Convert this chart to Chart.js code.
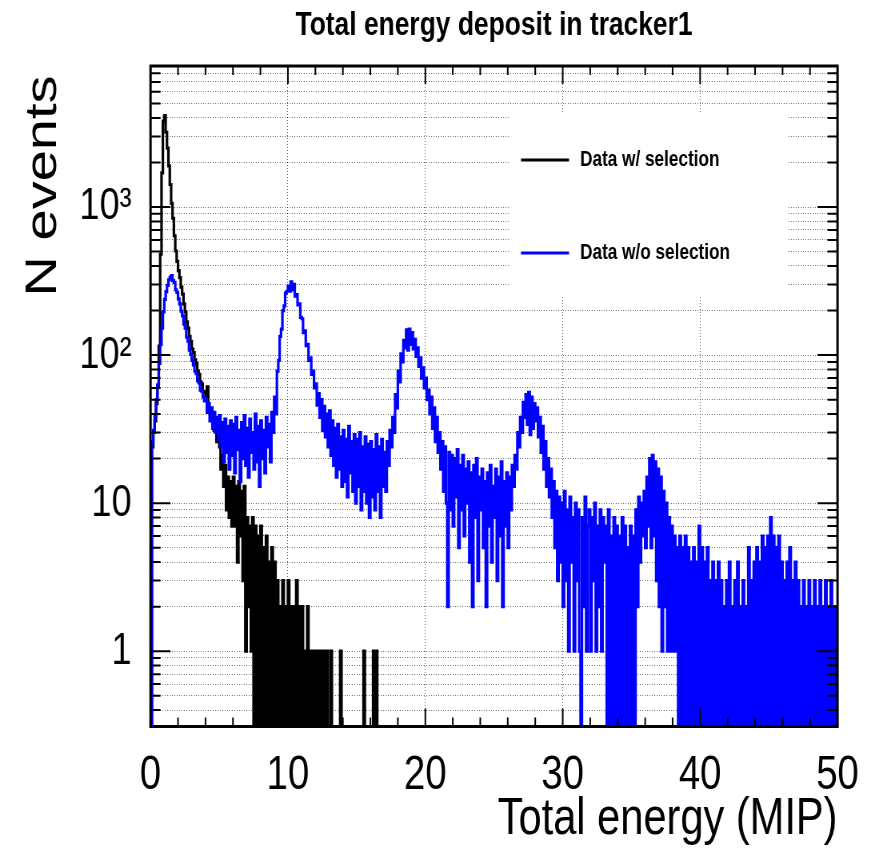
<!DOCTYPE html>
<html>
<head>
<meta charset="utf-8">
<script src="https://cdn.jsdelivr.net/npm/chart.js@4.4.1/dist/chart.umd.min.js"></script>
<style>
  html, body { margin: 0; padding: 0; background: #ffffff; }
  /* drawing buffer is wider than the displayed box: the plot is shown condensed horizontally */
  canvas { display: block; }
</style>
</head>
<body>
<canvas id="energy" width="1094" height="854" style="width:875px;height:854px"></canvas>
<script>
// Histogram binning (MIP per bin) and axis ranges
const BIN_WIDTH = 0.1;
const X_RANGE = [0, 50];
const Y_RANGE = [0.31, 8970];

const SERIES_LABELS = ['Data w/ selection', 'Data w/o selection'];
const X_TICKS = [0, 10, 20, 30, 40, 50];
const Y_TICKS = [
  0.4, 0.5, 0.6, 0.7, 0.8, 0.9,
  1, 2, 3, 4, 5, 6, 7, 8, 9,
  10, 20, 30, 40, 50, 60, 70, 80, 90,
  100, 200, 300, 400, 500, 600, 700, 800, 900,
  1000, 2000, 3000, 4000, 5000, 6000, 7000, 8000
];
const Y_TICK_LABELS = { 1: '1', 10: '10', 100: '10\u00B2', 1000: '10\u00B3' };

// Counts per bin, events passing the selection (0 - 17 MIP)
const withSelection = [
  0, 24, 30, 36, 47, 62, 115, 480, 1700, 3800,
  4150, 3200, 2500, 1900, 1420, 1060, 840, 640, 505, 430,
  372, 334, 288, 258, 222, 196, 168, 152, 134, 124,
  110, 104, 93, 88, 78, 74, 66, 64, 57, 56,
  50, 61, 44, 42, 37, 39, 31, 33, 26, 28,
  24, 17, 21, 13, 18, 9, 15, 8, 14, 7,
  15, 7, 13, 4, 14, 6, 12, 3, 13, 1,
  8, 2, 7, 1, 8, 0, 7, 0, 6, 0,
  7, 0, 5, 0, 6, 0, 4, 0, 5, 0,
  4, 0, 3, 0, 2, 0, 3, 0, 2, 0,
  3, 0, 2, 0, 2, 0, 3, 0, 2, 0,
  2, 0, 1, 0, 2, 0, 1, 0, 1, 0,
  1, 0, 1, 0, 1, 0, 1, 0, 1, 0,
  0, 1, 0, 0, 0, 0, 0, 0, 1, 0,
  0, 0, 0, 0, 0, 0, 0, 0, 0, 0,
  0, 0, 0, 0, 0, 1, 0, 0, 0, 0,
  0, 0, 1, 0, 1, 0, 0, 0, 0, 0
];

// Counts per bin, all events (0 - 50 MIP)
const withoutSelection = [
  0, 26, 31, 39, 50, 63, 88, 118, 152, 196,
  238, 268, 296, 322, 335, 345, 318, 310, 276, 265,
  240, 222, 198, 184, 162, 152, 132, 124, 108, 101,
  92, 86, 78, 75, 67, 65, 58, 57, 52, 49,
  51, 41, 47, 36, 44, 32, 41, 30, 38, 27,
  39, 24, 35, 19, 37, 22, 33, 17, 36, 21,
  34, 16, 38, 23, 31, 14, 35, 20, 39, 18,
  32, 15, 37, 22, 30, 17, 40, 19, 33, 13,
  36, 20, 31, 16, 38, 24, 34, 19, 41, 30,
  52, 40, 78, 92, 134, 150, 200, 215, 262, 270,
  292, 270, 312, 276, 300, 250, 256, 218, 222, 180,
  176, 142, 146, 116, 118, 92, 96, 74, 78, 60,
  64, 46, 55, 38, 50, 31, 45, 28, 40, 24,
  42, 21, 36, 18, 32, 15, 34, 17, 28, 13,
  31, 14, 27, 11, 33, 16, 26, 12, 29, 10,
  27, 13, 30, 9, 24, 12, 28, 10, 25, 8,
  26, 11, 23, 9, 29, 12, 24, 8, 27, 13,
  22, 12, 26, 18, 31, 24, 38, 30, 54, 44,
  78, 66, 102, 90, 126, 112, 148, 108, 150, 118,
  142, 110, 128, 98, 112, 84, 96, 70, 82, 60,
  70, 50, 58, 40, 52, 32, 44, 26, 38, 22,
  30, 17, 26, 12, 24, 10, 2, 22, 9, 21,
  7, 20, 11, 23, 5, 18, 9, 21, 6, 17,
  10, 19, 4, 16, 2, 18, 8, 20, 3, 15,
  9, 17, 5, 14, 2, 16, 7, 18, 4, 13,
  8, 17, 3, 15, 6, 19, 2, 14, 7, 16,
  5, 15, 9, 18, 13, 21, 17, 30, 24, 38,
  30, 48, 38, 54, 34, 56, 29, 52, 32, 47,
  36, 44, 28, 38, 22, 33, 17, 26, 13, 20,
  11, 17, 8, 14, 5, 12, 3, 11, 4, 10,
  2, 12, 3, 9, 1, 11, 4, 8, 1, 10,
  3, 9, 1, 0, 8, 2, 11, 1, 7, 9,
  1, 8, 3, 10, 1, 7, 2, 9, 1, 8,
  4, 7, 0, 9, 0, 6, 0, 8, 0, 7,
  0, 6, 0, 8, 0, 7, 0, 5, 0, 7,
  0, 6, 0, 9, 2, 11, 4, 10, 6, 12,
  5, 15, 7, 20, 5, 21, 6, 19, 3, 17,
  2, 15, 1, 12, 2, 10, 1, 8, 1, 7,
  1, 6, 1, 5, 0, 6, 0, 5, 0, 6,
  0, 5, 0, 4, 0, 5, 0, 4, 0, 7,
  0, 5, 0, 4, 0, 5, 0, 3, 0, 4,
  0, 3, 0, 4, 0, 3, 0, 2, 0, 3,
  0, 4, 0, 2, 0, 3, 0, 4, 0, 2,
  0, 3, 0, 2, 0, 5, 0, 3, 0, 4,
  0, 5, 0, 4, 0, 6, 0, 5, 0, 6,
  0, 8, 0, 6, 0, 5, 0, 6, 0, 4,
  0, 3, 0, 4, 0, 5, 0, 3, 0, 4,
  0, 3, 0, 2, 0, 3, 0, 2, 0, 3,
  0, 2, 0, 3, 0, 2, 0, 3, 0, 2,
  0, 3, 0, 2, 0, 3, 0, 2, 0, 2
];

const FONT = "'Liberation Sans', Arial, Helvetica, sans-serif";
const COLORS = ['#000000', '#0000ff'];
const GRID = 'rgba(0,0,0,0.6)';

// Horizontal factor between the drawing buffer and the displayed width
const canvas = document.getElementById('energy');
const SX = canvas.width / 875;
const sx = v => v * SX;

// One point per bin lower edge, plus the closing edge, drawn as steps.
// A log axis has no zero: empty bins are dropped to the axis floor.
function histPoints(counts) {
  const floor = v => (v > 0 ? v : Y_RANGE[0]);
  const pts = counts.map((c, i) => ({ x: i * BIN_WIDTH, y: floor(c) }));
  pts.push({ x: counts.length * BIN_WIDTH, y: floor(counts[counts.length - 1]) });
  return pts;
}

// Frame with inward ticks on all four sides, legend box and y-axis title
const frameDecor = {
  id: 'frameDecor',
  beforeDatasetsDraw(chart) {
    const ctx = chart.ctx;
    const rows = [160, 253];
    ctx.save();
    ctx.fillStyle = '#ffffff';
    ctx.fillRect(sx(510), 112, sx(787) - sx(510), 297 - 112);
    chart.data.datasets.forEach((ds, i) => {
      ctx.strokeStyle = ds.borderColor;
      ctx.lineWidth = 3;
      ctx.beginPath();
      ctx.moveTo(sx(521), rows[i]);
      ctx.lineTo(sx(569), rows[i]);
      ctx.stroke();
      ctx.fillStyle = '#000000';
      ctx.font = 'bold 21.5px ' + FONT;
      ctx.textAlign = 'left';
      ctx.textBaseline = 'middle';
      ctx.fillText(ds.label, sx(580), rows[i]);
    });
    ctx.restore();
  },
  afterDraw(chart) {
    const { ctx, chartArea: a, scales } = chart;
    ctx.save();
    ctx.strokeStyle = '#000000';
    ctx.lineWidth = 2;
    ctx.beginPath();
    for (let v = X_RANGE[0]; v <= X_RANGE[1]; v += 2) {
      const px = scales.x.getPixelForValue(v);
      const len = v % 10 === 0 ? 18 : 9;
      ctx.moveTo(px, a.bottom); ctx.lineTo(px, a.bottom - len);
      ctx.moveTo(px, a.top); ctx.lineTo(px, a.top + len);
    }
    Y_TICKS.forEach(v => {
      const py = scales.y.getPixelForValue(v);
      const len = sx(Y_TICK_LABELS[v] !== undefined ? 20 : 10);
      ctx.moveTo(a.left, py); ctx.lineTo(a.left + len, py);
      ctx.moveTo(a.right, py); ctx.lineTo(a.right - len, py);
    });
    ctx.stroke();
    ctx.lineWidth = 3;
    ctx.strokeRect(a.left, a.top, a.right - a.left, a.bottom - a.top);

    // rotated y-axis title
    ctx.translate(sx(56), 186);
    ctx.rotate(-Math.PI / 2);
    ctx.fillStyle = '#000000';
    ctx.font = '56px ' + FONT;
    ctx.textAlign = 'center';
    ctx.textBaseline = 'alphabetic';
    ctx.fillText('N events', 0, 0);
    ctx.restore();
  }
};

new Chart(canvas, {
  type: 'line',
  data: {
    datasets: [
      { label: SERIES_LABELS[0], data: histPoints(withSelection), borderColor: COLORS[0], order: 2 },
      { label: SERIES_LABELS[1], data: histPoints(withoutSelection), borderColor: COLORS[1], order: 1 }
    ]
  },
  options: {
    responsive: false,
    animation: false,
    events: [],
    layout: { padding: { left: 0, right: canvas.width - sx(837.5), top: 0, bottom: 0 } },
    elements: {
      line: { borderWidth: 3.2, stepped: 'before', tension: 0, fill: false, borderJoinStyle: 'miter' },
      point: { radius: 0, hitRadius: 0, hoverRadius: 0 }
    },
    plugins: {
      legend: { display: false },
      tooltip: { enabled: false },
      title: {
        display: true,
        text: 'Total energy deposit in tracker1',
        fullSize: false,
        color: '#000000',
        font: { family: FONT, size: 33, weight: 'bold' },
        padding: { top: 6, bottom: 20.4 }
      }
    },
    scales: {
      x: {
        type: 'linear',
        min: X_RANGE[0],
        max: X_RANGE[1],
        afterBuildTicks: s => { s.ticks = X_TICKS.map(v => ({ value: v })); },
        afterFit: s => { s.height = 127.5; },
        grid: { color: GRID, lineWidth: 1, drawTicks: false },
        border: { display: false, dash: [1, 2] },
        ticks: {
          color: '#000000',
          font: { family: FONT, size: 48 },
          padding: 20,
          maxRotation: 0,
          autoSkip: false
        },
        title: {
          display: true,
          text: 'Total energy (MIP)',
          align: 'end',
          color: '#000000',
          font: { family: FONT, size: 52 },
          padding: { top: 0, bottom: 3 }
        }
      },
      y: {
        type: 'logarithmic',
        min: Y_RANGE[0],
        max: Y_RANGE[1],
        bounds: 'data',
        afterBuildTicks: s => { s.ticks = Y_TICKS.map(v => ({ value: v })); },
        afterFit: s => { s.width = sx(150.5); },
        grid: { color: GRID, lineWidth: 1, drawTicks: false },
        border: { display: false, dash: [1, 2] },
        ticks: {
          color: '#000000',
          font: { family: FONT, size: 45 },
          padding: sx(19),
          autoSkip: false,
          callback: v => (Y_TICK_LABELS[v] !== undefined ? Y_TICK_LABELS[v] : '')
        }
      }
    }
  },
  plugins: [frameDecor]
});
</script>
</body>
</html>
